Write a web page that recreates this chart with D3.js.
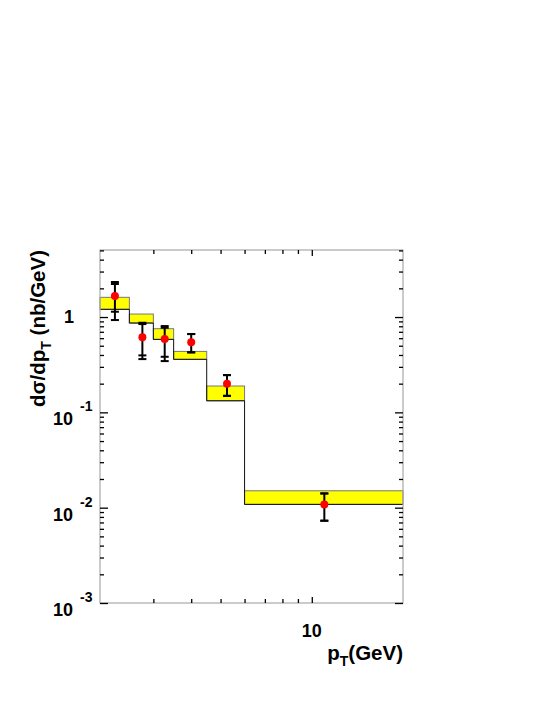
<!DOCTYPE html>
<html>
<head>
<meta charset="utf-8">
<script src="https://cdn.jsdelivr.net/npm/d3@7"></script>
<style>
    body { margin: 0; background: #ffffff; }
    text { font-family: "Liberation Sans", Arial, Helvetica, sans-serif; font-weight: bold; }
</style>
</head>
<body>
<svg id="drawing_region"></svg>
<script>
// bins of the theory band (pT in GeV)
const binEdges = [2, 2.5, 3, 3.5, 4.5, 6, 20];
const bandLow  = [1.205, 0.865, 0.583, 0.360, 0.1323, 0.01083];
const bandHigh = [1.61, 1.075, 0.754, 0.436, 0.189, 0.01504];

// measured points
const ptPoints  = [2.24, 2.76, 3.27, 4.0, 5.25, 11.0];
const xsecValue = [1.66, 0.612, 0.588, 0.543, 0.1995, 0.01083];
const statLow   = [1.137, 0.396, 0.383, 0.426, 0.149, 0.0073];
const statHigh  = [2.22, 0.844, 0.772, 0.663, 0.246, 0.0141];
const totLow    = [0.930, 0.362, 0.345, 0.426, 0.149, 0.0073];
const totHigh   = [2.33, 0.871, 0.804, 0.663, 0.246, 0.0141];

// axis ticks
const xTicks = [3, 4, 5, 6, 7, 8, 9, 10];
const yMajor = [1, 0.1, 0.01, 0.001];
const yMajorLabel = [["1", ""], ["10", "-1"], ["10", "-2"], ["10", "-3"]];

var config = {
    parent: '#drawing_region',
    width: 545,
    height: 705,
    margin: {top:250, right:142, bottom:102, left:100}
};

class SpectrumChart {

    constructor( config ) {
        this.config = config;
        this.init();
    }

    init() {
        let self = this;

        self.svg = d3.select( self.config.parent )
            .attr('width', self.config.width)
            .attr('height', self.config.height);

        self.chart = self.svg.append('g')
            .attr('transform', `translate(${self.config.margin.left}, ${self.config.margin.top})`);

        self.inner_width = self.config.width - self.config.margin.left - self.config.margin.right;
        self.inner_height = self.config.height - self.config.margin.top - self.config.margin.bottom;

        self.xscale = d3.scaleLog()
            .domain( [2, 20] )
            .range( [0, self.inner_width] );

        self.yscale = d3.scaleLog()
            .domain( [1e-3, 5.05] )
            .range( [self.inner_height, 0] );
    }

    render() {
        let self = this;
        const W = self.inner_width, H = self.inner_height;

        // theory band
        const bins = bandLow.map( (d,i) => ({x0: binEdges[i], x1: binEdges[i+1], lo: d, hi: bandHigh[i]}) );
        self.chart.selectAll('.band')
            .data(bins)
            .enter()
            .append('rect')
            .attr('x', d => self.xscale(d.x0))
            .attr('width', d => self.xscale(d.x1) - self.xscale(d.x0))
            .attr('y', d => self.yscale(d.hi))
            .attr('height', d => self.yscale(d.lo) - self.yscale(d.hi))
            .attr('fill', '#ffff00')
            .attr('stroke', '#777')
            .attr('stroke-width', 1);

        // histogram step line
        const steps = [];
        bins.forEach( d => { steps.push([d.x0, d.lo]); steps.push([d.x1, d.lo]); });
        const line = d3.line()
            .x( d => self.xscale(d[0]) )
            .y( d => self.yscale(d[1]) );
        self.chart.append('path')
            .attr('d', line(steps))
            .attr('fill', 'none')
            .attr('stroke', '#111')
            .attr('stroke-width', 1);

        // frame
        self.chart.append('rect')
            .attr('x', 0).attr('y', 0)
            .attr('width', W).attr('height', H)
            .attr('fill', 'none')
            .attr('stroke', '#a8a8a8')
            .attr('stroke-width', 1.2);

        // y axes: left & right (ticks inward)
        const yAll = [];
        [1e-3, 1e-2, 1e-1, 1].forEach( dec => {
            for (let k = 1; k <= 9; k++) {
                const v = dec * k;
                if (v <= 5.05) yAll.push({v: v, major: k === 1});
            }
        });
        const gl = self.chart.append('g')
            .call( d3.axisRight( self.yscale ).tickValues( yAll.map(d => d.v) ).tickFormat('').tickSizeOuter(0) );
        const gr = self.chart.append('g').attr('transform', `translate(${W},0)`)
            .call( d3.axisLeft( self.yscale ).tickValues( yAll.map(d => d.v) ).tickFormat('').tickSizeOuter(0) );
        [gl, gr].forEach( (g, gi) => {
            g.select('.domain').remove();
            g.selectAll('.tick line')
                .attr('stroke', '#000')
                .attr('stroke-width', 1.3)
                .attr('x2', (d) => {
                    const len = yAll.find(t => t.v === d).major ? 8 : 4;
                    return gi === 0 ? len : -len;
                });
        });

        // x axes: bottom & top (ticks inward)
        const gb = self.chart.append('g').attr('transform', `translate(0,${H})`)
            .call( d3.axisTop( self.xscale ).tickValues( xTicks ).tickFormat('').tickSizeOuter(0) );
        const gt = self.chart.append('g')
            .call( d3.axisBottom( self.xscale ).tickValues( xTicks ).tickFormat('').tickSizeOuter(0) );
        [gb, gt].forEach( (g, gi) => {
            g.select('.domain').remove();
            g.selectAll('.tick line')
                .attr('stroke', '#000')
                .attr('stroke-width', 1.3)
                .attr('y2', d => {
                    const len = d === 10 ? 6 : 4;
                    return gi === 0 ? -len : len;
                });
        });

        // y tick labels
        yMajor.forEach( (v, i) => {
            const y = self.yscale(v);
            const lab = yMajorLabel[i];
            if (lab[1] === '') {
                self.chart.append('text')
                    .attr('x', -26).attr('y', y + 6)
                    .attr('text-anchor', 'end')
                    .attr('font-size', '18px')
                    .text(lab[0]);
            } else {
                self.chart.append('text')
                    .attr('x', -27).attr('y', y + 13)
                    .attr('text-anchor', 'end')
                    .attr('font-size', '18px')
                    .text(lab[0]);
                self.chart.append('text')
                    .attr('x', -20).attr('y', y - 1)
                    .attr('font-size', '14px')
                    .text(lab[1]);
            }
        });

        // x tick label
        self.chart.append('text')
            .attr('x', self.xscale(10)).attr('y', H + 34)
            .attr('text-anchor', 'middle')
            .attr('font-size', '18px')
            .text('10');

        // x title
        const xt = self.chart.append('text')
            .attr('x', W).attr('y', H + 57)
            .attr('text-anchor', 'end')
            .attr('font-size', '20.5px');
        xt.append('tspan').text('p');
        xt.append('tspan').attr('font-size', '14px').attr('dy', 6).text('T');
        xt.append('tspan').attr('dy', -6).text('(GeV)');

        // y title
        const yt = self.chart.append('text')
            .attr('transform', `translate(-55, 0) rotate(-90)`)
            .attr('text-anchor', 'end')
            .attr('font-size', '20.5px');
        yt.append('tspan').text('d\u03c3/dp');
        yt.append('tspan').attr('font-size', '14px').attr('dy', 6).text('T');
        yt.append('tspan').attr('dy', -6).text(' (nb/GeV)');

        // measured points with error bars
        const pts = ptPoints.map( (d,i) => ({x: d, y: xsecValue[i], sl: statLow[i], sh: statHigh[i], tl: totLow[i], th: totHigh[i]}) );
        const cap = 4;
        const pg = self.chart.selectAll('.pt')
            .data(pts)
            .enter()
            .append('g');
        pg.append('line')
            .attr('x1', d => self.xscale(d.x)).attr('x2', d => self.xscale(d.x))
            .attr('y1', d => self.yscale(d.th)).attr('y2', d => self.yscale(d.tl))
            .attr('stroke', '#000').attr('stroke-width', 2);
        ['sl', 'sh', 'tl', 'th'].forEach( key => {
            pg.append('line')
                .attr('x1', d => self.xscale(d.x) - cap).attr('x2', d => self.xscale(d.x) + cap)
                .attr('y1', d => self.yscale(d[key])).attr('y2', d => self.yscale(d[key]))
                .attr('stroke', '#000').attr('stroke-width', 2);
        });
        pg.append('circle')
            .attr('cx', d => self.xscale(d.x))
            .attr('cy', d => self.yscale(d.y))
            .attr('r', 4)
            .attr('fill', '#ff0000');
    }
}

const chart = new SpectrumChart( config );
chart.render();
</script>
</body>
</html>
